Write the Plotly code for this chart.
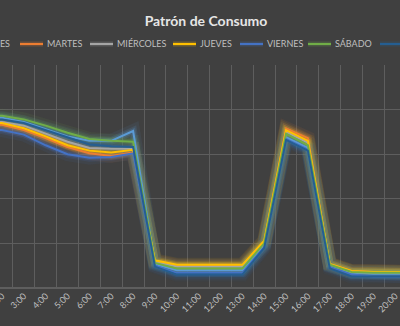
import plotly.graph_objects as go

# Hourly consumption per weekday (only the hours shown on screen)
hours = ["1:00", "2:00", "3:00", "4:00", "5:00", "6:00", "7:00", "8:00", "9:00", "10:00",
         "11:00", "12:00", "13:00", "14:00", "15:00", "16:00", "17:00", "18:00", "19:00",
         "20:00", "21:00"]

lunes = [191, 191, 186, 178, 170, 165, 165, 176, 27, 20, 20, 20, 20, 48, 169, 157, 25, 17, 16, 16, 16]
martes = [183, 183, 177, 168, 158, 151, 148, 152, 30, 25, 25, 25, 25, 52, 179, 168, 27, 19, 18, 18, 18]
miercoles = [186, 186, 182, 173, 164, 157, 156, 156, 29, 24, 24, 24, 24, 49, 175, 163, 26, 18, 17, 17, 17]
jueves = [185, 185, 179, 170, 160, 154, 152, 155, 31, 26, 26, 26, 26, 53, 177, 165, 27, 19, 18, 18, 18]
viernes = [177, 177, 172, 160, 150, 146, 147, 151, 25, 17, 17, 17, 17, 46, 167, 155, 24, 15, 13, 13, 13]
sabado = [193, 193, 189, 182, 174, 167, 165, 164, 28, 22, 22, 22, 22, 50, 173, 160, 26, 18, 17, 17, 17]
domingo = [189, 189, 185, 177, 169, 161, 159, 158, 24, 15, 15, 15, 15, 45, 166, 154, 22, 13, 13, 13, 13]

series_names = ["LUNES", "MARTES", "MIÉRCOLES", "JUEVES", "VIERNES", "SÁBADO", "DOMINGO"]
series_values = [lunes, martes, miercoles, jueves, viernes, sabado, domingo]
series_colors = ["#5B9BD5", "#ED7D31", "#A5A5A5", "#FFC000", "#4472C4", "#70AD47", "#255E91"]

W, H = 400, 326
# left edge (px) of each legend swatch; the row runs wider than the canvas
legend_left_px = [-45, 20, 90, 173, 240, 308, 380]
legend_y_px = 44
swatch_px = 23


def rgba(hex_color, alpha):
    h = hex_color.lstrip("#")
    r, g, b = int(h[0:2], 16), int(h[2:4], 16), int(h[4:6], 16)
    return f"rgba({r},{g},{b},{alpha})"


fig = go.Figure()

# soft glow underneath every line
for name, vals, col in zip(series_names, series_values, series_colors):
    for width, alpha in ((14, 0.08), (8, 0.14), (5, 0.22)):
        fig.add_trace(go.Scatter(
            x=hours, y=vals, mode="lines", showlegend=False, hoverinfo="skip",
            line=dict(color=rgba(col, alpha), width=width),
        ))

# the weekday lines themselves
for name, vals, col in zip(series_names, series_values, series_colors):
    fig.add_trace(go.Scatter(
        x=hours, y=vals, mode="lines", name=name, showlegend=False,
        line=dict(color=col, width=2),
    ))

# legend row drawn by hand so it can run past both edges
margin_t, margin_b = 65, 38
plot_h = H - margin_t - margin_b
ly = (H - margin_b - legend_y_px) / plot_h
for name, col, left in zip(series_names, series_colors, legend_left_px):
    x0, x1 = left / W, (left + swatch_px) / W
    fig.add_shape(type="line", xref="paper", yref="paper", x0=x0, x1=x1, y0=ly, y1=ly,
                  line=dict(color=rgba(col, 0.25), width=5), layer="above")
    fig.add_shape(type="line", xref="paper", yref="paper", x0=x0, x1=x1, y0=ly, y1=ly,
                  line=dict(color=col, width=2), layer="above")
    fig.add_annotation(text=name, xref="paper", yref="paper", x=(left + swatch_px + 2) / W,
                       y=ly, xanchor="left", yanchor="middle", showarrow=False,
                       font=dict(size=9, color="#BFBFBF"))

grid = "#5E5E5E"
fig.update_layout(
    width=W, height=H, showlegend=False,
    paper_bgcolor="#404040", plot_bgcolor="#404040",
    margin=dict(l=0, r=0, t=margin_t, b=margin_b),
    font=dict(family="Lato, Open Sans, sans-serif", color="#BFBFBF", size=9),
    title=dict(text="<b>Patrón de Consumo</b>", x=0.515, xanchor="center", y=0.935,
               yanchor="middle", font=dict(size=14, color="#E6E6E6")),
    xaxis=dict(type="category", range=[0.908, 19.215], tickson="boundaries",
               showgrid=True, gridcolor=grid, gridwidth=1, ticks="", tickangle=-45,
               tickfont=dict(size=9, color="#BFBFBF"), showline=False, zeroline=False,
               automargin=False),
    yaxis=dict(range=[0, 250], dtick=50, showgrid=True, gridcolor=grid, gridwidth=1,
               showticklabels=False, zeroline=True, zerolinecolor=grid, ticks="",
               automargin=False),
)

fig.write_html("out.html")
